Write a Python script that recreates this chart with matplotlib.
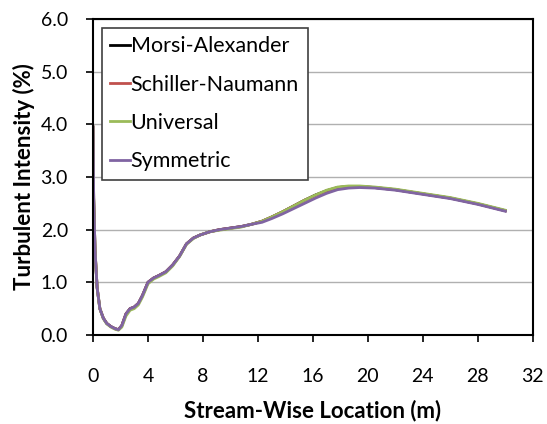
import matplotlib.pyplot as plt

plt.rcParams['font.family'] = ['Lato', 'DejaVu Sans']

# stream-wise positions (m)
x = [0, 0.05, 0.15, 0.3, 0.5, 0.75, 1.0, 1.3, 1.6, 1.85, 2.1, 2.4, 2.7, 3.0, 3.3,
     3.6, 4.0, 4.4, 4.8, 5.3, 5.8, 6.3, 6.8, 7.3, 7.8, 8.5, 9.2, 10.0, 10.8, 11.5,
     12.3, 13.0, 13.8, 14.6, 15.4, 16.2, 17.0, 17.8, 18.6, 19.4, 20.5, 22, 24, 26,
     28, 30]

morsi = [3.95, 2.6, 1.6, 0.9, 0.5, 0.32, 0.22, 0.16, 0.12, 0.10, 0.18, 0.40, 0.50,
         0.53, 0.60, 0.75, 1.00, 1.08, 1.13, 1.20, 1.33, 1.50, 1.73, 1.84, 1.90,
         1.96, 2.00, 2.03, 2.06, 2.10, 2.16, 2.24, 2.34, 2.45, 2.56, 2.66, 2.74,
         2.80, 2.82, 2.82, 2.80, 2.76, 2.68, 2.60, 2.49, 2.36]

schiller = [3.95, 2.6, 1.6, 0.9, 0.5, 0.32, 0.22, 0.16, 0.12, 0.10, 0.18, 0.40, 0.50,
            0.53, 0.60, 0.75, 1.00, 1.08, 1.13, 1.20, 1.33, 1.50, 1.73, 1.84, 1.90,
            1.96, 2.00, 2.03, 2.06, 2.10, 2.16, 2.24, 2.34, 2.45, 2.56, 2.65, 2.74,
            2.80, 2.82, 2.82, 2.80, 2.76, 2.68, 2.60, 2.49, 2.36]

universal = [3.95, 2.6, 1.6, 0.9, 0.5, 0.31, 0.21, 0.15, 0.11, 0.09, 0.15, 0.36, 0.47,
             0.50, 0.57, 0.72, 0.97, 1.06, 1.11, 1.18, 1.31, 1.49, 1.72, 1.83, 1.90,
             1.96, 1.99, 2.02, 2.05, 2.10, 2.16, 2.24, 2.34, 2.45, 2.56, 2.66, 2.75,
             2.81, 2.83, 2.83, 2.81, 2.77, 2.69, 2.61, 2.50, 2.37]

symmetric = [3.95, 2.6, 1.6, 0.9, 0.5, 0.32, 0.22, 0.16, 0.12, 0.10, 0.18, 0.40, 0.50,
             0.53, 0.60, 0.75, 1.00, 1.08, 1.13, 1.20, 1.33, 1.50, 1.73, 1.84, 1.90,
             1.96, 2.00, 2.03, 2.06, 2.10, 2.14, 2.21, 2.30, 2.40, 2.50, 2.60, 2.69,
             2.76, 2.79, 2.80, 2.79, 2.75, 2.67, 2.59, 2.48, 2.35]

labels = ['Morsi-Alexander', 'Schiller-Naumann', 'Universal', 'Symmetric']
colors = ['black', '#c0504d', '#9bbb59', '#8064a2']

fig = plt.figure(figsize=(5.47, 4.24), dpi=100)
ax = fig.add_axes([0.170, 0.210, 0.804, 0.745])

for y, lab, c in zip([morsi, schiller, universal, symmetric], labels, colors):
    ax.plot(x, y, color=c, lw=2.0, label=lab)

ax.set_xlim(0, 32)
ax.set_ylim(0, 6)
ax.set_xticks(range(0, 33, 4))
ax.set_yticks([0, 1, 2, 3, 4, 5, 6])
ax.set_yticklabels(['%.1f' % v for v in range(7)])
ax.grid(axis='y', color='#b0b0b0', lw=1)
ax.set_axisbelow(True)
for s in ax.spines.values():
    s.set_linewidth(1.5)
ax.tick_params(axis='both', direction='out', length=5, width=1.2, labelsize=14)
ax.tick_params(axis='x', pad=19)
ax.tick_params(axis='y', pad=13)

ax.set_xlabel('Stream-Wise Location (m)', fontsize=16, fontweight='bold', labelpad=10)
ax.set_ylabel('Turbulent Intensity (%)', fontsize=16, fontweight='bold', labelpad=4)

leg = ax.legend(loc='upper left', fontsize=15.5,
                handlelength=0.9, handletextpad=0.05, labelspacing=0.85,
                fancybox=False, framealpha=1, borderaxespad=0.4, borderpad=0.4)
leg.get_frame().set_edgecolor('#404040')
leg.get_frame().set_linewidth(1.2)

plt.savefig('out.png', dpi=100)
